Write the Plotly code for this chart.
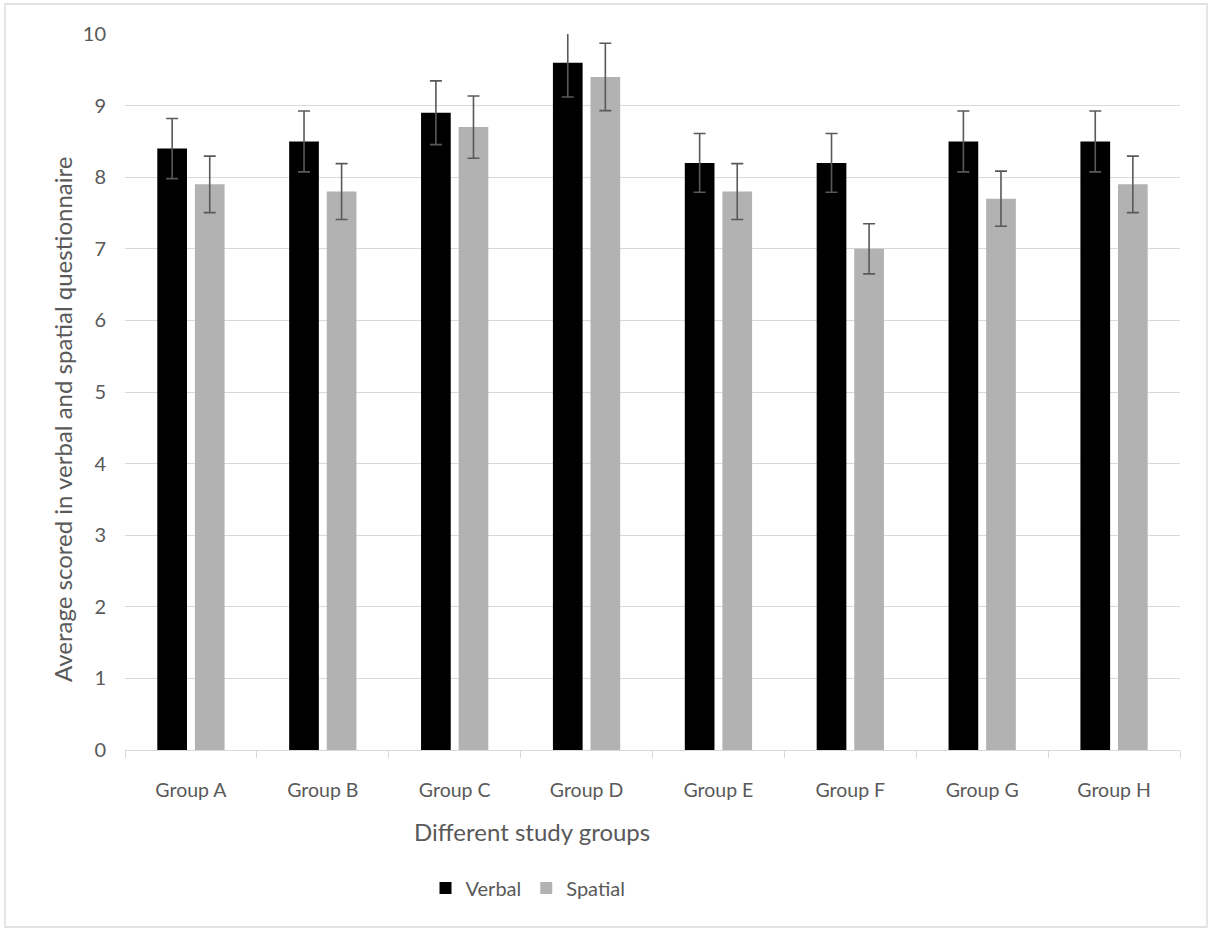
import plotly.graph_objects as go

groups = ["Group A", "Group B", "Group C", "Group D", "Group E", "Group F", "Group G", "Group H"]
verbal = [8.4, 8.5, 8.9, 9.6, 8.2, 8.2, 8.5, 8.5]
spatial = [7.9, 7.8, 8.7, 9.4, 7.8, 7.0, 7.7, 7.9]
error_percent = 5
y_ticks = list(range(0, 11))

W, H = 1209, 929
L, R, T, B = 125, 29, 34, 179
PW, PH = W - L - R, H - T - B


def px(x):
    return (x - L) / PW


def py(y):
    return (H - B - y) / PH


TEXT = "#595959"
FONT = "Lato"

err = dict(type="percent", value=error_percent, color="#595959", thickness=1.6, width=6)

fig = go.Figure()
fig.add_trace(go.Bar(name="Verbal", x=groups, y=verbal, marker=dict(color="#000000", line=dict(width=0)),
                     error_y=err))
fig.add_trace(go.Bar(name="Spatial", x=groups, y=spatial, marker=dict(color="#b2b2b2", line=dict(width=0)),
                     error_y=err))

fig.update_layout(
    width=W, height=H,
    margin=dict(l=L, r=R, t=T, b=B, pad=0),
    paper_bgcolor="white", plot_bgcolor="white",
    barmode="group", bargap=0.43, bargroupgap=0.21,
    font=dict(family=FONT, color=TEXT, size=19),
    showlegend=True,
    legend=dict(orientation="h", x=px(528), xanchor="center", y=py(888), yanchor="middle",
                font=dict(size=20, color=TEXT), itemwidth=30, traceorder="normal"),
    xaxis=dict(showgrid=False, showline=True, linecolor="#d9d9d9", linewidth=1.3,
               ticks="outside", tickson="boundaries", tickcolor="#d9d9d9", ticklen=7, tickwidth=1.3,
               tickfont=dict(size=19.5, color=TEXT), ticklabelstandoff=22),
    yaxis=dict(range=[0, 10], tickvals=y_ticks, showgrid=True, gridcolor="#d9d9d9", gridwidth=1.3,
               zeroline=False, showline=False, ticks="", tickfont=dict(size=20, color=TEXT),
               ticklabelstandoff=18),
    annotations=[
        dict(text="Different study groups", xref="paper", yref="paper", x=px(532), y=py(831),
             xanchor="center", yanchor="middle", showarrow=False, font=dict(size=24, color=TEXT)),
        dict(text="Average scored in verbal and spatial questionnaire", xref="paper", yref="paper",
             x=px(62), y=py(420), xanchor="center", yanchor="middle", textangle=-90, showarrow=False,
             font=dict(size=24, color=TEXT)),
    ],
    shapes=[
        dict(type="rect", xref="paper", yref="paper", x0=px(5), x1=px(1207), y0=py(927), y1=py(4),
             line=dict(color="#d9d9d9", width=1.3), fillcolor="rgba(0,0,0,0)", layer="below"),
    ],
)

fig.write_html("out.html", config={"displayModeBar": False},
               post_script="document.body.style.margin='0';document.body.style.overflow='hidden';")
